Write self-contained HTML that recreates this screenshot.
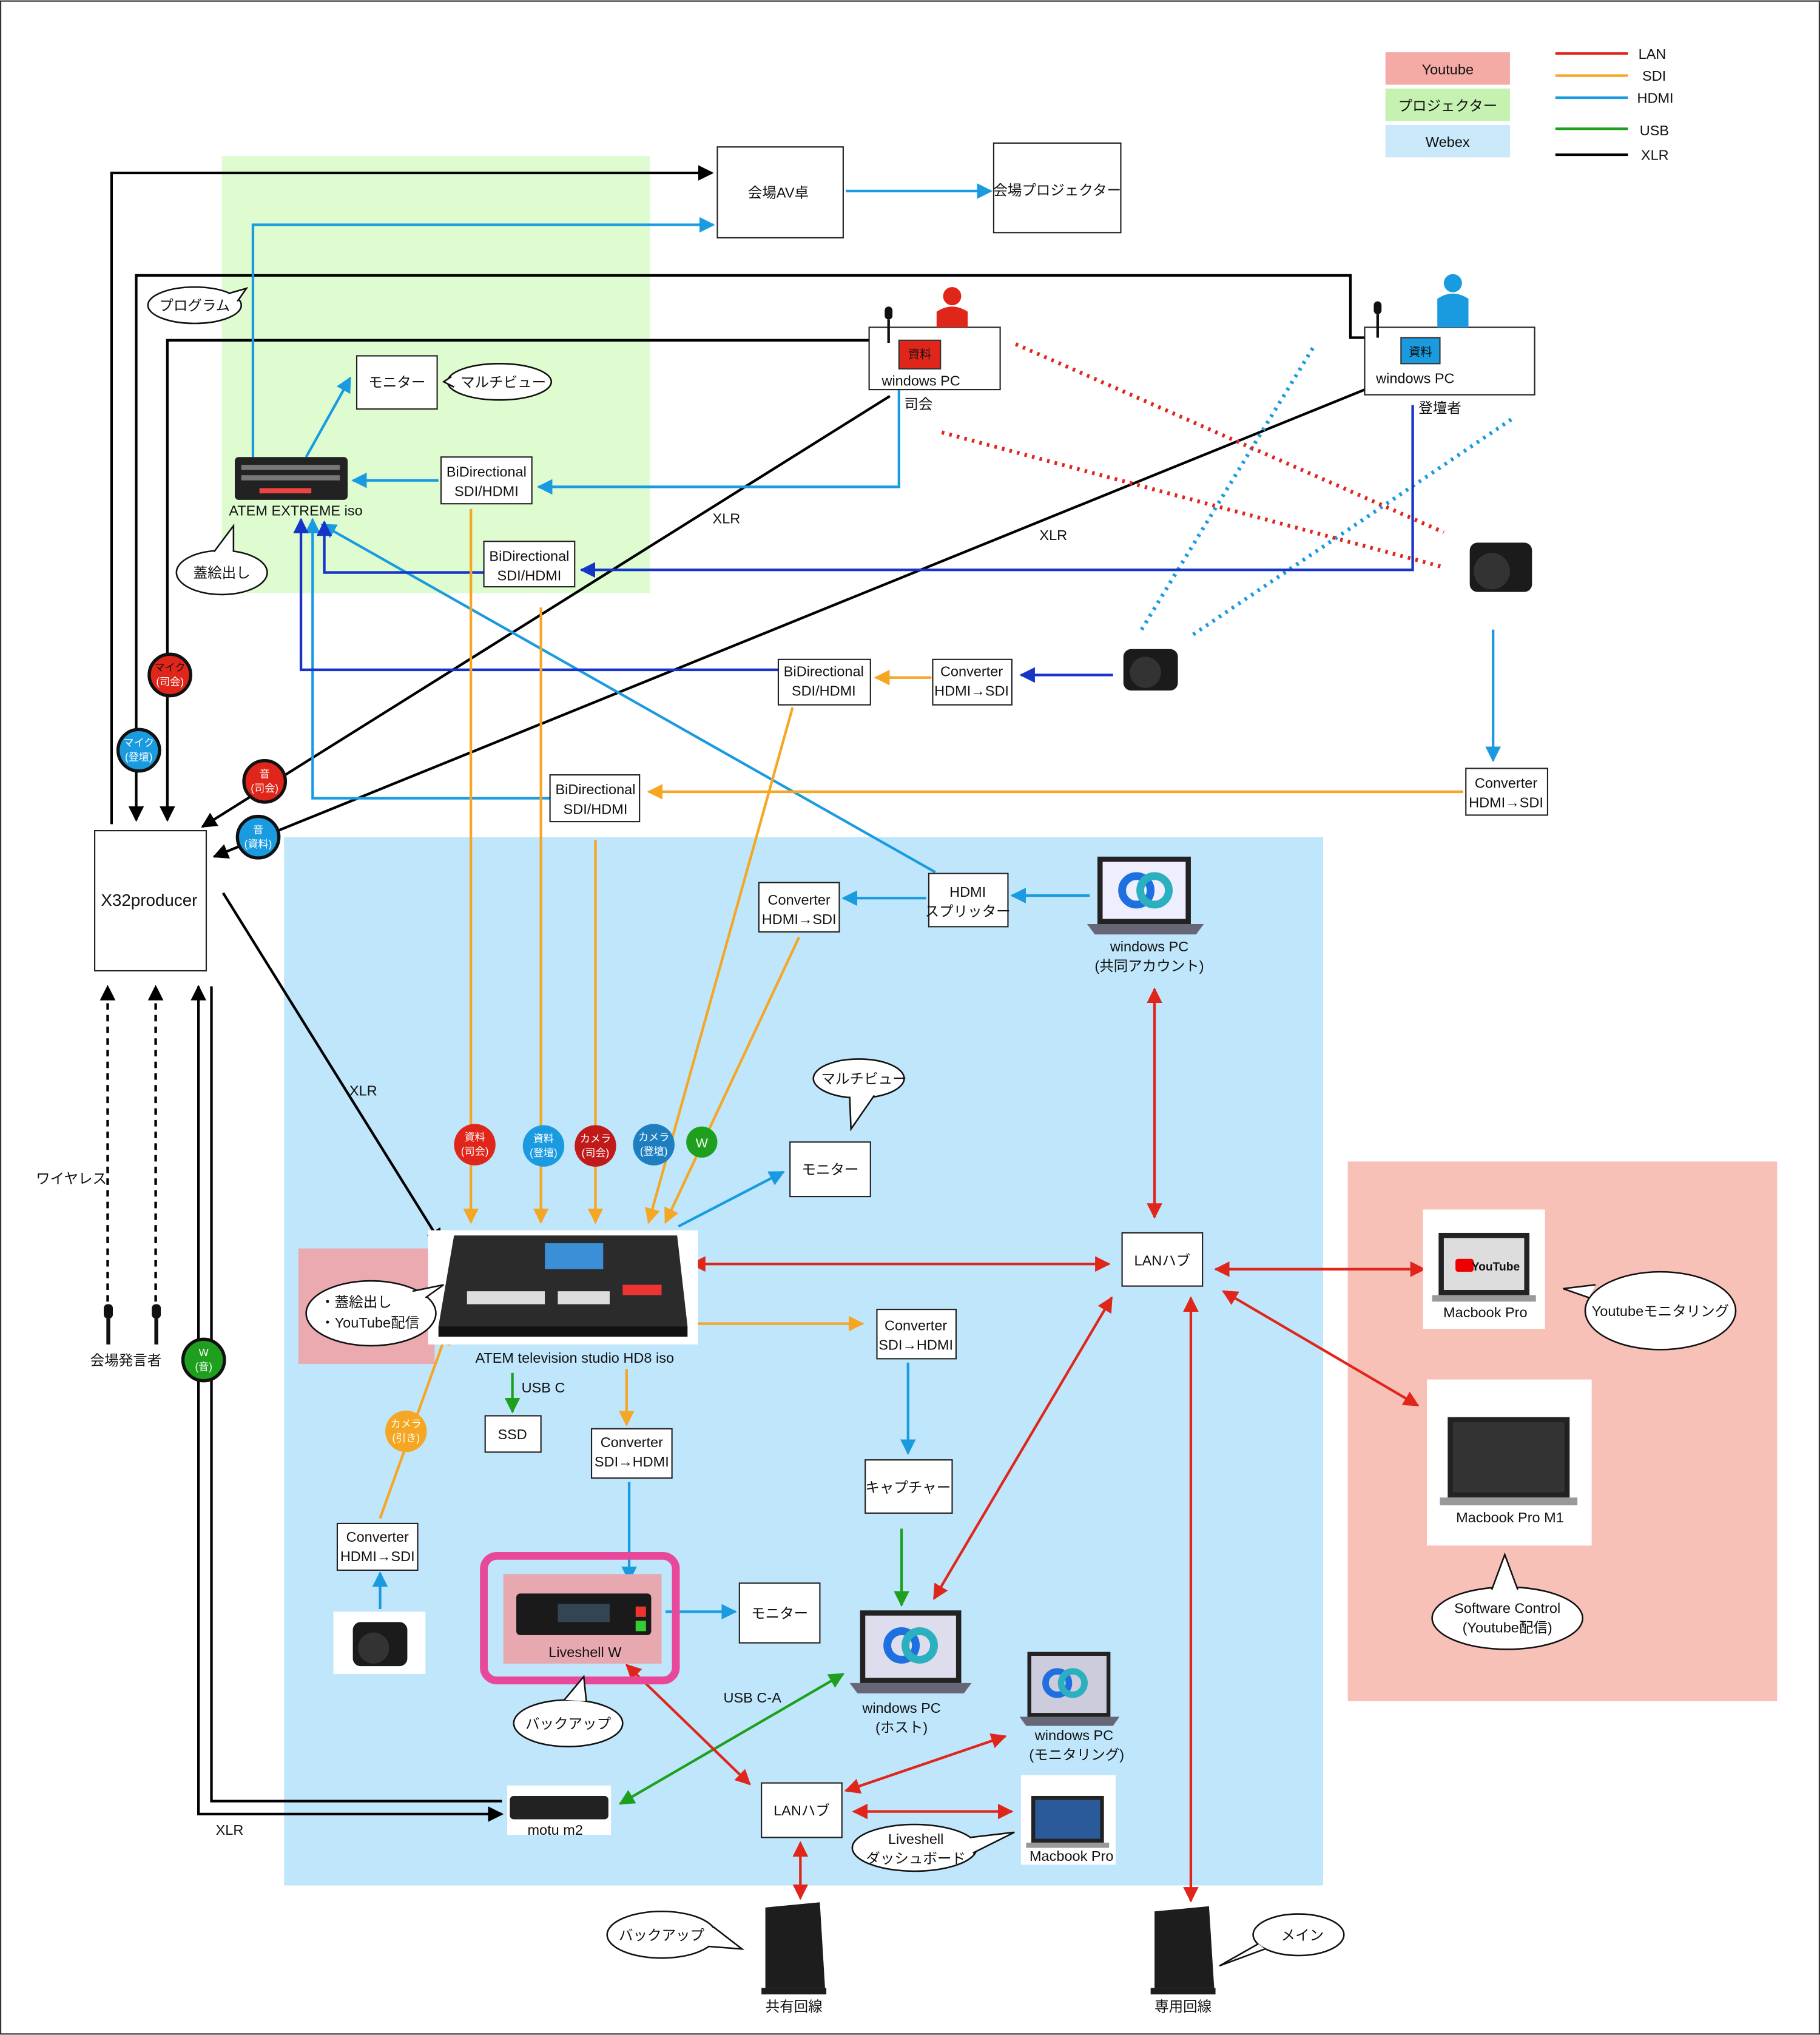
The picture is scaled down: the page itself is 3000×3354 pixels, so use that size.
<!DOCTYPE html>
<html><head><meta charset="utf-8"><style>
html,body{margin:0;padding:0;background:#fff}
svg{display:block}
text{font-family:"Liberation Sans","Noto Sans CJK JP",sans-serif;font-size:11px;fill:#111}
.c{text-anchor:middle}
.bx{fill:#fff;stroke:#222;stroke-width:1}
</style></head><body>
<svg width="3000" height="3354" viewBox="0 0 1403 1568" xmlns="http://www.w3.org/2000/svg">
<defs>
<marker id="ak" viewBox="0 0 10 10" refX="9" refY="5" markerWidth="6" markerHeight="6" orient="auto-start-reverse"><path d="M0,0L10,5L0,10z" fill="#000"/></marker>
<marker id="ab" viewBox="0 0 10 10" refX="9" refY="5" markerWidth="6" markerHeight="6" orient="auto-start-reverse"><path d="M0,0L10,5L0,10z" fill="#1a9be0"/></marker>
<marker id="ad" viewBox="0 0 10 10" refX="9" refY="5" markerWidth="6" markerHeight="6" orient="auto-start-reverse"><path d="M0,0L10,5L0,10z" fill="#1634c8"/></marker>
<marker id="ao" viewBox="0 0 10 10" refX="9" refY="5" markerWidth="6" markerHeight="6" orient="auto-start-reverse"><path d="M0,0L10,5L0,10z" fill="#f5a623"/></marker>
<marker id="ag" viewBox="0 0 10 10" refX="9" refY="5" markerWidth="6" markerHeight="6" orient="auto-start-reverse"><path d="M0,0L10,5L0,10z" fill="#1ea01e"/></marker>
<marker id="ar" viewBox="0 0 10 10" refX="9" refY="5" markerWidth="6" markerHeight="6" orient="auto-start-reverse"><path d="M0,0L10,5L0,10z" fill="#e0261b"/></marker>
</defs>
<rect x="0.5" y="0.5" width="1402" height="1567" fill="#fff" stroke="#333"/>
<!-- regions -->
<rect x="171" y="120" width="330" height="337" fill="#dffcd0"/>
<rect x="219" y="645" width="801" height="808" fill="#bfe6fb"/>
<rect x="1039" y="895" width="331" height="416" fill="#f8c1b8"/>
<rect x="230" y="962" width="105" height="89" fill="#eaaab0"/>
<!-- legend -->
<rect x="1068" y="40" width="96" height="25" fill="#f4aaa5"/><text x="1116" y="57" class="c">Youtube</text>
<rect x="1068" y="68" width="96" height="25" fill="#c5f2b0"/><text x="1116" y="85" class="c">プロジェクター</text>
<rect x="1068" y="96" width="96" height="25" fill="#c9e8f9"/><text x="1116" y="113" class="c">Webex</text>
<g stroke-width="2"><line x1="1199" y1="41" x2="1255" y2="41" stroke="#e0261b"/><line x1="1199" y1="58" x2="1255" y2="58" stroke="#f5a623"/><line x1="1199" y1="75" x2="1255" y2="75" stroke="#1a9be0"/><line x1="1199" y1="99" x2="1255" y2="99" stroke="#1ea01e"/><line x1="1199" y1="119" x2="1255" y2="119" stroke="#000"/></g>
<text x="1263" y="45">LAN</text><text x="1266" y="62">SDI</text><text x="1262" y="79">HDMI</text><text x="1264" y="104">USB</text><text x="1265" y="123">XLR</text>

<!-- black XLR lines -->
<g fill="none" stroke="#000" stroke-width="2">
<polyline points="86,635 86,133 549,133" marker-end="url(#ak)"/>
<polyline points="1060,260 1041,260 1041,212 105,212 105,632" marker-end="url(#ak)"/>
<polyline points="685,262 129,262 129,632" marker-end="url(#ak)"/>
<line x1="686" y1="305" x2="156" y2="637" marker-end="url(#ak)"/>
<line x1="1062" y1="296" x2="165" y2="660" marker-end="url(#ak)"/>
<line x1="172" y1="688" x2="340" y2="958" marker-end="url(#ak)"/>
<polyline points="387,1398 153,1398 153,760" marker-start="url(#ak)" marker-end="url(#ak)"/>
<polyline points="387,1388 163,1388 163,760"/>
<line x1="83" y1="1003" x2="83" y2="760" stroke-dasharray="5,4" marker-end="url(#ak)"/>
<line x1="120" y1="1003" x2="120" y2="760" stroke-dasharray="5,4" marker-end="url(#ak)"/>
</g>
<text x="560" y="403" class="c">XLR</text><text x="812" y="416" class="c">XLR</text><text x="280" y="844" class="c">XLR</text><text x="177" y="1414" class="c">XLR</text>
<text x="55" y="912" class="c">ワイヤレス</text>

<!-- light blue HDMI -->
<g fill="none" stroke="#1a9be0" stroke-width="2">
<polyline points="195,352 195,173 550,173" marker-end="url(#ab)"/>
<line x1="236" y1="352" x2="270" y2="291" marker-end="url(#ab)"/>
<line x1="338" y1="370" x2="272" y2="370" marker-end="url(#ab)"/>
<polyline points="693,300 693,375 415,375" marker-end="url(#ab)"/>
<line x1="652" y1="147" x2="764" y2="147" marker-end="url(#ab)"/>
<line x1="721" y1="672" x2="248" y2="404" marker-end="url(#ab)"/>
<polyline points="424,615 241,615 241,400" marker-end="url(#ab)"/>
<line x1="714" y1="692" x2="650" y2="692" marker-end="url(#ab)"/>
<line x1="840" y1="690" x2="780" y2="690" marker-end="url(#ab)"/>
<line x1="1151" y1="485" x2="1151" y2="586" marker-end="url(#ab)"/>
<line x1="523" y1="945" x2="604" y2="903" marker-end="url(#ab)"/>
<line x1="700" y1="1050" x2="700" y2="1120" marker-end="url(#ab)"/>
<line x1="485" y1="1142" x2="485" y2="1218" marker-end="url(#ab)"/>
<line x1="513" y1="1242" x2="567" y2="1242" marker-end="url(#ab)"/>
<line x1="293" y1="1240" x2="293" y2="1212" marker-end="url(#ab)"/>
<line x1="1012" y1="268" x2="880" y2="485" stroke-dasharray="2,4" stroke-width="3"/>
<line x1="1165" y1="323" x2="918" y2="490" stroke-dasharray="2,4" stroke-width="3"/>
</g>
<!-- dark blue -->
<g fill="none" stroke="#1634c8" stroke-width="2">
<polyline points="1089,312 1089,439 448,439" marker-end="url(#ad)"/>
<polyline points="373,441 250,441 250,402" marker-end="url(#ad)"/>
<polyline points="600,516 232,516 232,400" marker-end="url(#ad)"/>
<line x1="858" y1="520" x2="787" y2="520" marker-end="url(#ad)"/>
</g>
<!-- orange -->
<g fill="none" stroke="#f5a623" stroke-width="2">
<line x1="363" y1="392" x2="363" y2="942" marker-end="url(#ao)"/>
<line x1="417" y1="468" x2="417" y2="942" marker-end="url(#ao)"/>
<line x1="459" y1="647" x2="459" y2="942" marker-end="url(#ao)"/>
<line x1="611" y1="545" x2="500" y2="942" marker-end="url(#ao)"/>
<line x1="616" y1="722" x2="513" y2="942" marker-end="url(#ao)"/>
<line x1="718" y1="522" x2="675" y2="522" marker-end="url(#ao)"/>
<line x1="1128" y1="610" x2="500" y2="610" marker-end="url(#ao)"/>
<line x1="538" y1="1020" x2="665" y2="1020" marker-end="url(#ao)"/>
<line x1="483" y1="1055" x2="483" y2="1098" marker-end="url(#ao)"/>
<line x1="293" y1="1170" x2="345" y2="1025" marker-end="url(#ao)"/>
</g>
<!-- green -->
<g fill="none" stroke="#1ea01e" stroke-width="2">
<line x1="395" y1="1058" x2="395" y2="1088" marker-end="url(#ag)"/>
<line x1="695" y1="1178" x2="695" y2="1237" marker-end="url(#ag)"/>
<line x1="478" y1="1390" x2="650" y2="1290" marker-start="url(#ag)" marker-end="url(#ag)"/>
</g>
<text x="402" y="1073">USB C</text><text x="580" y="1312" class="c">USB C-A</text>
<!-- red -->
<g fill="none" stroke="#e0261b" stroke-width="2">
<line x1="533" y1="974" x2="855" y2="974" marker-start="url(#ar)" marker-end="url(#ar)"/>
<line x1="937" y1="978" x2="1098" y2="978" marker-start="url(#ar)" marker-end="url(#ar)"/>
<line x1="943" y1="995" x2="1093" y2="1083" marker-start="url(#ar)" marker-end="url(#ar)"/>
<line x1="890" y1="762" x2="890" y2="938" marker-start="url(#ar)" marker-end="url(#ar)"/>
<line x1="720" y1="1232" x2="857" y2="1000" marker-start="url(#ar)" marker-end="url(#ar)"/>
<line x1="918" y1="1000" x2="918" y2="1465" marker-start="url(#ar)" marker-end="url(#ar)"/>
<line x1="483" y1="1283" x2="578" y2="1375" marker-start="url(#ar)" marker-end="url(#ar)"/>
<line x1="658" y1="1396" x2="780" y2="1396" marker-start="url(#ar)" marker-end="url(#ar)"/>
<line x1="652" y1="1380" x2="775" y2="1338" marker-start="url(#ar)" marker-end="url(#ar)"/>
<line x1="617" y1="1420" x2="617" y2="1463" marker-start="url(#ar)" marker-end="url(#ar)"/>
<line x1="783" y1="265" x2="1113" y2="410" stroke-dasharray="2,4" stroke-width="3"/>
<line x1="726" y1="333" x2="1113" y2="437" stroke-dasharray="2,4" stroke-width="3"/>
</g>

<!-- boxes -->
<rect class="bx" x="553" y="113" width="97" height="70"/><text x="600" y="152" class="c">会場AV卓</text>
<rect class="bx" x="766" y="110" width="98" height="69"/><text x="815" y="150" class="c">会場プロジェクター</text>
<rect class="bx" x="275" y="274" width="62" height="41"/><text x="306" y="298" class="c">モニター</text>
<rect class="bx" x="340" y="352" width="70" height="36"/><text x="375" y="367" class="c">BiDirectional</text><text x="375" y="382" class="c">SDI/HDMI</text>
<rect class="bx" x="373" y="417" width="70" height="35"/><text x="408" y="432" class="c">BiDirectional</text><text x="408" y="447" class="c">SDI/HDMI</text>
<rect class="bx" x="670" y="252" width="101" height="48"/><text x="710" y="297" class="c">windows PC</text><text x="708" y="315" class="c">司会</text>
<rect class="bx" x="1052" y="252" width="131" height="52"/><text x="1091" y="295" class="c">windows PC</text><text x="1110" y="318" class="c">登壇者</text>
<rect class="bx" x="600" y="508" width="71" height="35"/><text x="635" y="521" class="c">BiDirectional</text><text x="635" y="536" class="c">SDI/HDMI</text>
<rect class="bx" x="719" y="508" width="61" height="35"/><text x="749" y="521" class="c">Converter</text><text x="749" y="536" class="c">HDMI→SDI</text>
<rect class="bx" x="424" y="597" width="69" height="36"/><text x="459" y="612" class="c">BiDirectional</text><text x="459" y="627" class="c">SDI/HDMI</text>
<rect class="bx" x="1130" y="592" width="63" height="36"/><text x="1161" y="607" class="c">Converter</text><text x="1161" y="622" class="c">HDMI→SDI</text>
<rect class="bx" x="73" y="640" width="86" height="108"/><text x="115" y="698" class="c" style="font-size:13px">X32producer</text>
<rect class="bx" x="585" y="680" width="62" height="38"/><text x="616" y="697" class="c">Converter</text><text x="616" y="712" class="c">HDMI→SDI</text>
<rect class="bx" x="716" y="673" width="61" height="41"/><text x="746" y="691" class="c">HDMI</text><text x="746" y="706" class="c">スプリッター</text>
<rect class="bx" x="609" y="880" width="62" height="42"/><text x="640" y="905" class="c">モニター</text>
<rect class="bx" x="865" y="950" width="62" height="41"/><text x="896" y="975" class="c">LANハブ</text>
<rect class="bx" x="676" y="1009" width="61" height="38"/><text x="706" y="1025" class="c">Converter</text><text x="706" y="1040" class="c">SDI→HDMI</text>
<rect class="bx" x="374" y="1091" width="43" height="28"/><text x="395" y="1109" class="c">SSD</text>
<rect class="bx" x="456" y="1101" width="62" height="38"/><text x="487" y="1115" class="c">Converter</text><text x="487" y="1130" class="c">SDI→HDMI</text>
<rect class="bx" x="667" y="1125" width="67" height="41"/><text x="700" y="1150" class="c">キャプチャー</text>
<rect class="bx" x="260" y="1174" width="62" height="36"/><text x="291" y="1188" class="c">Converter</text><text x="291" y="1203" class="c">HDMI→SDI</text>
<rect class="bx" x="570" y="1220" width="62" height="46"/><text x="601" y="1247" class="c">モニター</text>
<rect class="bx" x="587" y="1374" width="62" height="42"/><text x="618" y="1399" class="c">LANハブ</text>

<!-- devices -->
<rect x="181" y="352" width="87" height="33" rx="3" fill="#222"/>
<g fill="#777"><rect x="186" y="358" width="76" height="4"/><rect x="186" y="366" width="76" height="4"/></g>
<rect x="200" y="376" width="40" height="4" fill="#e44"/>
<text x="228" y="397" class="c">ATEM EXTREME iso</text>
<rect x="330" y="948" width="208" height="88" fill="#fff"/>
<path d="M350,952 L522,952 L530,1022 L338,1022 Z" fill="#2b2b2b"/>
<rect x="338" y="1022" width="192" height="8" fill="#111"/>
<g fill="#ddd"><rect x="360" y="995" width="60" height="10"/><rect x="430" y="995" width="40" height="10"/></g>
<rect x="420" y="958" width="45" height="20" fill="#3a8fd6"/>
<rect x="480" y="990" width="30" height="8" fill="#e33"/>
<text x="443" y="1050" class="c">ATEM television studio HD8 iso</text>
<rect x="373" y="1199" width="148" height="96" rx="10" fill="none" stroke="#e8489a" stroke-width="6"/>
<rect x="388" y="1213" width="122" height="69" fill="#e8a8b0"/>
<rect x="398" y="1228" width="104" height="32" rx="3" fill="#1a1a1a"/>
<rect x="430" y="1236" width="40" height="14" fill="#345"/>
<rect x="490" y="1238" width="8" height="8" fill="#e33"/><rect x="490" y="1249" width="8" height="8" fill="#3c3"/>
<text x="451" y="1277" class="c">Liveshell W</text>
<rect x="391" y="1376" width="80" height="38" fill="#fff"/><rect x="393" y="1384" width="76" height="18" rx="3" fill="#222"/>
<text x="428" y="1414" class="c">motu m2</text>
<!-- cameras -->
<g fill="#1b1b1b">
<rect x="1133" y="418" width="48" height="38" rx="6"/><circle cx="1150" cy="440" r="14" fill="#333"/>
<rect x="866" y="500" width="42" height="32" rx="6"/><circle cx="883" cy="518" r="12" fill="#333"/>
<rect x="257" y="1242" width="71" height="48" fill="#fff"/><rect x="272" y="1250" width="42" height="34" rx="6"/><circle cx="288" cy="1270" r="12" fill="#333"/>
</g>
<!-- persons and mics -->
<circle cx="734" cy="228" r="7" fill="#e0261b"/><path d="M722,252 L722,240 Q734,232 746,240 L746,252Z" fill="#e0261b"/>
<circle cx="1120" cy="218" r="7" fill="#1a9be0"/><path d="M1108,252 L1108,230 Q1120,222 1132,230 L1132,252Z" fill="#1a9be0"/>
<rect x="693" y="262" width="32" height="22" fill="#e0261b" stroke="#333"/><text x="709" y="276" class="c" style="font-size:9px">資料</text>
<rect x="1080" y="260" width="30" height="20" fill="#1a9be0" stroke="#333"/><text x="1095" y="274" class="c" style="font-size:9px">資料</text>
<g fill="#111"><rect x="682" y="236" width="6" height="10" rx="3"/><rect x="684" y="246" width="2" height="18"/>
<rect x="1059" y="232" width="6" height="10" rx="3"/><rect x="1061" y="242" width="2" height="18"/>
<rect x="80" y="1005" width="7" height="11" rx="3"/><rect x="82" y="1016" width="3" height="20"/>
<rect x="117" y="1005" width="7" height="11" rx="3"/><rect x="119" y="1016" width="3" height="20"/></g>
<text x="97" y="1052" class="c">会場発言者</text>
<!-- laptops -->
<g>
<rect x="846" y="660" width="72" height="52" fill="#222"/><rect x="850" y="664" width="64" height="44" fill="#eef"/><path d="M838,712 L928,712 L922,720 L844,720Z" fill="#667"/>
<circle cx="876" cy="686" r="11" fill="none" stroke="#1e6fe0" stroke-width="6"/><circle cx="890" cy="686" r="11" fill="none" stroke="#2bb0c0" stroke-width="6"/>
<text x="886" y="733" class="c">windows PC</text><text x="886" y="748" class="c">(共同アカウント)</text>
<rect x="1097" y="932" width="94" height="92" fill="#fff"/><rect x="1109" y="950" width="70" height="48" fill="#222"/><rect x="1113" y="954" width="62" height="40" fill="#ddd"/><rect x="1104" y="998" width="80" height="5" fill="#999"/>
<rect x="1122" y="970" width="14" height="10" rx="2" fill="#e00"/><text x="1153" y="979" class="c" style="font-size:9px;font-weight:bold">YouTube</text>
<text x="1145" y="1015" class="c">Macbook Pro</text>
<rect x="1100" y="1063" width="127" height="128" fill="#fff"/><rect x="1116" y="1092" width="94" height="62" fill="#222"/><rect x="1120" y="1096" width="86" height="54" fill="#333"/><rect x="1110" y="1154" width="106" height="6" fill="#999"/>
<text x="1164" y="1173" class="c">Macbook Pro M1</text>
<rect x="663" y="1241" width="78" height="56" fill="#222"/><rect x="667" y="1245" width="70" height="48" fill="#dde"/><path d="M655,1297 L749,1297 L743,1305 L661,1305Z" fill="#667"/>
<circle cx="695" cy="1268" r="11" fill="none" stroke="#1e6fe0" stroke-width="6"/><circle cx="709" cy="1268" r="11" fill="none" stroke="#2bb0c0" stroke-width="6"/>
<text x="695" y="1320" class="c">windows PC</text><text x="695" y="1335" class="c">(ホスト)</text>
<rect x="792" y="1273" width="64" height="50" fill="#222"/><rect x="795" y="1276" width="58" height="44" fill="#ccd"/><path d="M786,1323 L863,1323 L858,1330 L791,1330Z" fill="#667"/>
<circle cx="815" cy="1297" r="9" fill="none" stroke="#1e6fe0" stroke-width="5"/><circle cx="827" cy="1297" r="9" fill="none" stroke="#2bb0c0" stroke-width="5"/>
<text x="828" y="1341" class="c">windows PC</text><text x="830" y="1356" class="c">(モニタリング)</text>
<rect x="787" y="1368" width="73" height="69" fill="#fff"/><rect x="795" y="1384" width="56" height="36" fill="#222"/><rect x="798" y="1387" width="50" height="30" fill="#2a5a9a"/><rect x="791" y="1420" width="64" height="4" fill="#999"/>
<text x="826" y="1434" class="c">Macbook Pro</text>
</g>
<!-- routers -->
<g fill="#1d1d1d"><path d="M590,1470 L632,1466 L636,1532 L590,1532Z"/><rect x="587" y="1532" width="50" height="5"/>
<path d="M890,1473 L932,1469 L936,1532 L890,1532Z"/><rect x="887" y="1532" width="50" height="5"/></g>
<text x="612" y="1550" class="c">共有回線</text><text x="912" y="1550" class="c">専用回線</text>

<!-- badges -->
<g stroke="#111" stroke-width="2.5">
<circle cx="131" cy="520" r="16" fill="#e0261b"/><circle cx="107" cy="578" r="16" fill="#1a9be0"/>
<circle cx="204" cy="602" r="16" fill="#e0261b"/><circle cx="199" cy="645" r="16" fill="#1a9be0"/>
<circle cx="157" cy="1048" r="16" fill="#1ea01e"/>
</g>
<g stroke="none">
<circle cx="366" cy="882" r="16" fill="#e0261b"/><circle cx="419" cy="883" r="16" fill="#1a9be0"/>
<circle cx="459" cy="883" r="16" fill="#c01a1a"/><circle cx="504" cy="882" r="16" fill="#1e7fc0"/>
<circle cx="541" cy="880" r="12" fill="#1ea01e"/><circle cx="313" cy="1103" r="16" fill="#f5a623"/>
</g>
<g style="font-size:8px" fill="#fff">
<text x="131" y="517" class="c" fill="#fff" style="font-size:8px">マイク</text><text x="131" y="528" class="c" style="font-size:8px;fill:#fff">(司会)</text>
<text x="107" y="575" class="c" style="font-size:8px;fill:#fff">マイク</text><text x="107" y="586" class="c" style="font-size:8px;fill:#fff">(登壇)</text>
<text x="204" y="599" class="c" style="font-size:8px;fill:#fff">音</text><text x="204" y="610" class="c" style="font-size:8px;fill:#fff">(司会)</text>
<text x="199" y="642" class="c" style="font-size:8px;fill:#fff">音</text><text x="199" y="653" class="c" style="font-size:8px;fill:#fff">(資料)</text>
<text x="157" y="1045" class="c" style="font-size:8px;fill:#fff">W</text><text x="157" y="1056" class="c" style="font-size:8px;fill:#fff">(音)</text>
<text x="366" y="879" class="c" style="font-size:8px;fill:#fff">資料</text><text x="366" y="890" class="c" style="font-size:8px;fill:#fff">(司会)</text>
<text x="419" y="880" class="c" style="font-size:8px;fill:#fff">資料</text><text x="419" y="891" class="c" style="font-size:8px;fill:#fff">(登壇)</text>
<text x="459" y="880" class="c" style="font-size:8px;fill:#fff">カメラ</text><text x="459" y="891" class="c" style="font-size:8px;fill:#fff">(司会)</text>
<text x="504" y="879" class="c" style="font-size:8px;fill:#fff">カメラ</text><text x="504" y="890" class="c" style="font-size:8px;fill:#fff">(登壇)</text>
<text x="541" y="884" class="c" style="font-size:10px;fill:#fff">W</text>
<text x="313" y="1100" class="c" style="font-size:8px;fill:#fff">カメラ</text><text x="313" y="1111" class="c" style="font-size:8px;fill:#fff">(引き)</text>
</g>

<!-- speech bubbles -->
<g fill="#fff" stroke="#111" stroke-width="1.2">
<ellipse cx="150" cy="235" rx="36" ry="14"/><path d="M176,226 L190,222 L183,232" />
<ellipse cx="385" cy="294" rx="40" ry="14"/><path d="M348,290 L342,294 L350,298"/>
<ellipse cx="171" cy="441" rx="35" ry="17"/><path d="M165,425 L180,405 L180,425"/>
<ellipse cx="662" cy="831" rx="35" ry="15"/><path d="M655,845 L656,870 L674,844"/>
<ellipse cx="286" cy="1012" rx="50" ry="25"/><path d="M318,995 L342,990 L328,1000"/>
<ellipse cx="438" cy="1328" rx="42" ry="18"/><path d="M435,1310 L450,1292 L452,1311"/>
<ellipse cx="705" cy="1424" rx="48" ry="18"/><path d="M748,1416 L782,1412 L750,1428"/>
<ellipse cx="510" cy="1491" rx="42" ry="18"/><path d="M550,1485 L572,1502 L546,1500"/>
<ellipse cx="1001" cy="1491" rx="35" ry="16"/><path d="M970,1498 L940,1515 L975,1502"/>
<ellipse cx="1280" cy="1010" rx="58" ry="30"/><path d="M1225,1000 L1205,993 L1230,990"/>
<ellipse cx="1162" cy="1247" rx="58" ry="24"/><path d="M1150,1225 L1160,1198 L1170,1225"/>
</g>
<text x="150" y="239" class="c">プログラム</text>
<text x="388" y="298" class="c">マルチビュー</text>
<text x="171" y="445" class="c">蓋絵出し</text>
<text x="666" y="835" class="c">マルチビュー</text>
<text x="247" y="1007">・蓋絵出し</text><text x="247" y="1023">・YouTube配信</text>
<text x="438" y="1332" class="c">バックアップ</text>
<text x="706" y="1421" class="c">Liveshell</text><text x="706" y="1436" class="c">ダッシュボード</text>
<text x="510" y="1495" class="c">バックアップ</text>
<text x="1004" y="1495" class="c">メイン</text>
<text x="1280" y="1014" class="c">Youtubeモニタリング</text>
<text x="1162" y="1243" class="c">Software Control</text><text x="1162" y="1258" class="c">(Youtube配信)</text>
</svg>
</body></html>
